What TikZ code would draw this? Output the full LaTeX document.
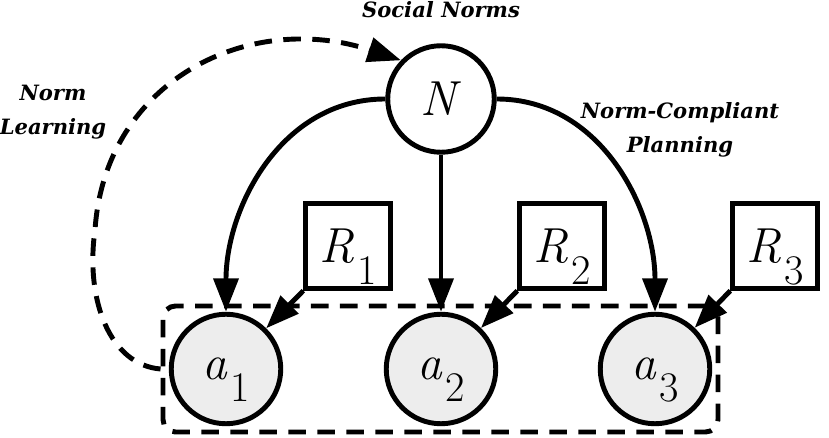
\documentclass[tikz,border=0pt]{standalone}
\usepackage{fontspec}
\newfontfamily\lblfont{DejaVu Serif}
\usetikzlibrary{arrows.meta,positioning}
\newcommand{\lsub}[2]{\textit{#1}\kern1.5pt\raisebox{-0.45em}[0pt][0pt]{\fontsize{24}{24}\selectfont #2}}

\begin{document}
\begin{tikzpicture}[
      lbl/.style={font=\lblfont\fontsize{12}{19}\selectfont\bfseries\itshape, align=center},
      nrm/.style={circle, draw, line width=2.8pt, minimum size=2.13cm,
                  inner sep=0pt, font=\fontsize{28}{30}\selectfont},
      act/.style={circle, draw, fill=black!7, line width=2.8pt, minimum size=2.19cm,
                  inner sep=0pt, font=\fontsize{28}{30}\selectfont},
      rwd/.style={rectangle, draw, line width=2.8pt, minimum size=1.69cm,
                  inner sep=0pt, font=\fontsize{28}{30}\selectfont},
      arr/.style={-{Triangle[length=19pt,width=14pt]}, line width=2.8pt},
      dsh/.style={dash pattern=on 10pt off 6.5pt, line width=2.8pt}]
    \useasboundingbox (0,0) rectangle (16.58,8.76);
    % agents and their rewards
    \node[rectangle, draw, dsh, rounded corners=0.25cm, minimum width=11.1cm,
          minimum height=2.52cm] (team) at (8.81, 1.38) {};
    \node[act] (a1) at (4.52, 1.38) {\lsub{a}{1}};
    \node[act] (a2) at (8.82, 1.38) {\lsub{a}{2}};
    \node[act] (a3) at (13.10, 1.38) {\lsub{a}{3}};
    \node[rwd] (R1) at (6.96, 3.84) {\lsub{R}{1}};
    \node[rwd] (R2) at (11.24, 3.84) {\lsub{R}{2}};
    \node[rwd] (R3) at (15.50, 3.84) {\lsub{R}{3}};
    % shared norms
    \node[nrm] (N) at (8.82, 6.78) {\textit{N}};
    \node[lbl, anchor=base] (soc) at (8.82, 8.40) {Social Norms};
    \node[lbl] (lrn) at (1.06, 6.52) {Norm\\Learning};
    \node[lbl] (pln) at (13.60, 6.16) {Norm-Compliant\\Planning};
    \draw[arr] (N.west) to[out=180, in=90] (a1.north);
    \draw[arr] (N) -- (a2);
    \draw[arr] (N.east) to[out=0, in=90] (a3.north);
    \draw[arr] (R1.south west) -- (a1);
    \draw[arr] (R2.south west) -- (a2);
    \draw[arr] (R3.south west) -- (a3);
    \draw[arr, dsh] (team.west) .. controls (2.20, 1.46) and (1.70, 2.76) ..
      (1.90, 4.16) .. controls (2.10, 7.16) and (5.00, 8.56) .. (N.136);
  \end{tikzpicture}
\end{document}
